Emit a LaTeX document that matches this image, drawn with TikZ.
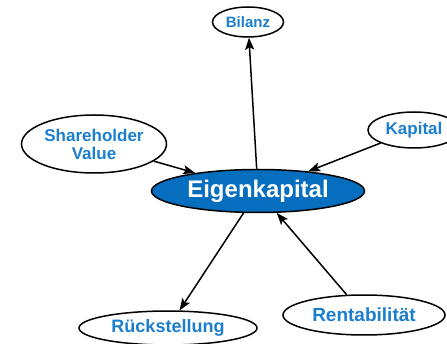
\documentclass[tikz,border=0pt]{standalone}
\usepackage{fontspec}
\setmainfont{Liberation Sans}
\usetikzlibrary{shapes.geometric, arrows.meta}
\definecolor{termblue}{RGB}{28,126,206}
\definecolor{corefill}{RGB}{6,110,190}
\tikzstyle{term} = [ellipse, draw=black, line width=1.5pt, fill=white, text=termblue, inner sep=0pt, align=center]
\tikzstyle{core} = [term, fill=corefill, text=white]
\tikzstyle{arrow} = [line width=1.5pt,->,>={Stealth[length=12pt,width=9pt,inset=2.5pt]}]
\newcommand{\termfont}[1]{\bfseries\fontsize{#1}{#1}\selectfont}

\begin{document}
\begin{tikzpicture}[x=1pt,y=-1pt]
\useasboundingbox (0,0) rectangle (447,344);
\clip (0,0) rectangle (447,344);

\node (eig) [core, minimum width=213pt, minimum height=43pt, font=\termfont{24}] at (258,191) {Eigenkapital};
\node (bil) [term, minimum width=71pt, minimum height=30pt, font=\termfont{15}] at (248,22) {Bilanz};
\node (share) [term, minimum width=145pt, minimum height=58pt, font=\bfseries\fontsize{17}{18}\selectfont] at (94,144) {Shareholder\\Value};
\node (kap) [term, minimum width=92pt, minimum height=36pt, font=\termfont{17}] at (414,130) {Kapital};
\node (rueck) [term, minimum width=178pt, minimum height=34pt, font=\termfont{18}] at (168,328) {Rückstellung};
\node (rent) [term, minimum width=162pt, minimum height=40pt, font=\termfont{19}] at (364,315) {Rentabilität};

\draw [arrow] (eig) -- (bil);
\draw [arrow] (share) -- (eig);
\draw [arrow] (kap) -- (eig);
\draw [arrow] (eig) -- (rueck);
\draw [arrow] (rent) -- (eig);

\end{tikzpicture}
\end{document}
